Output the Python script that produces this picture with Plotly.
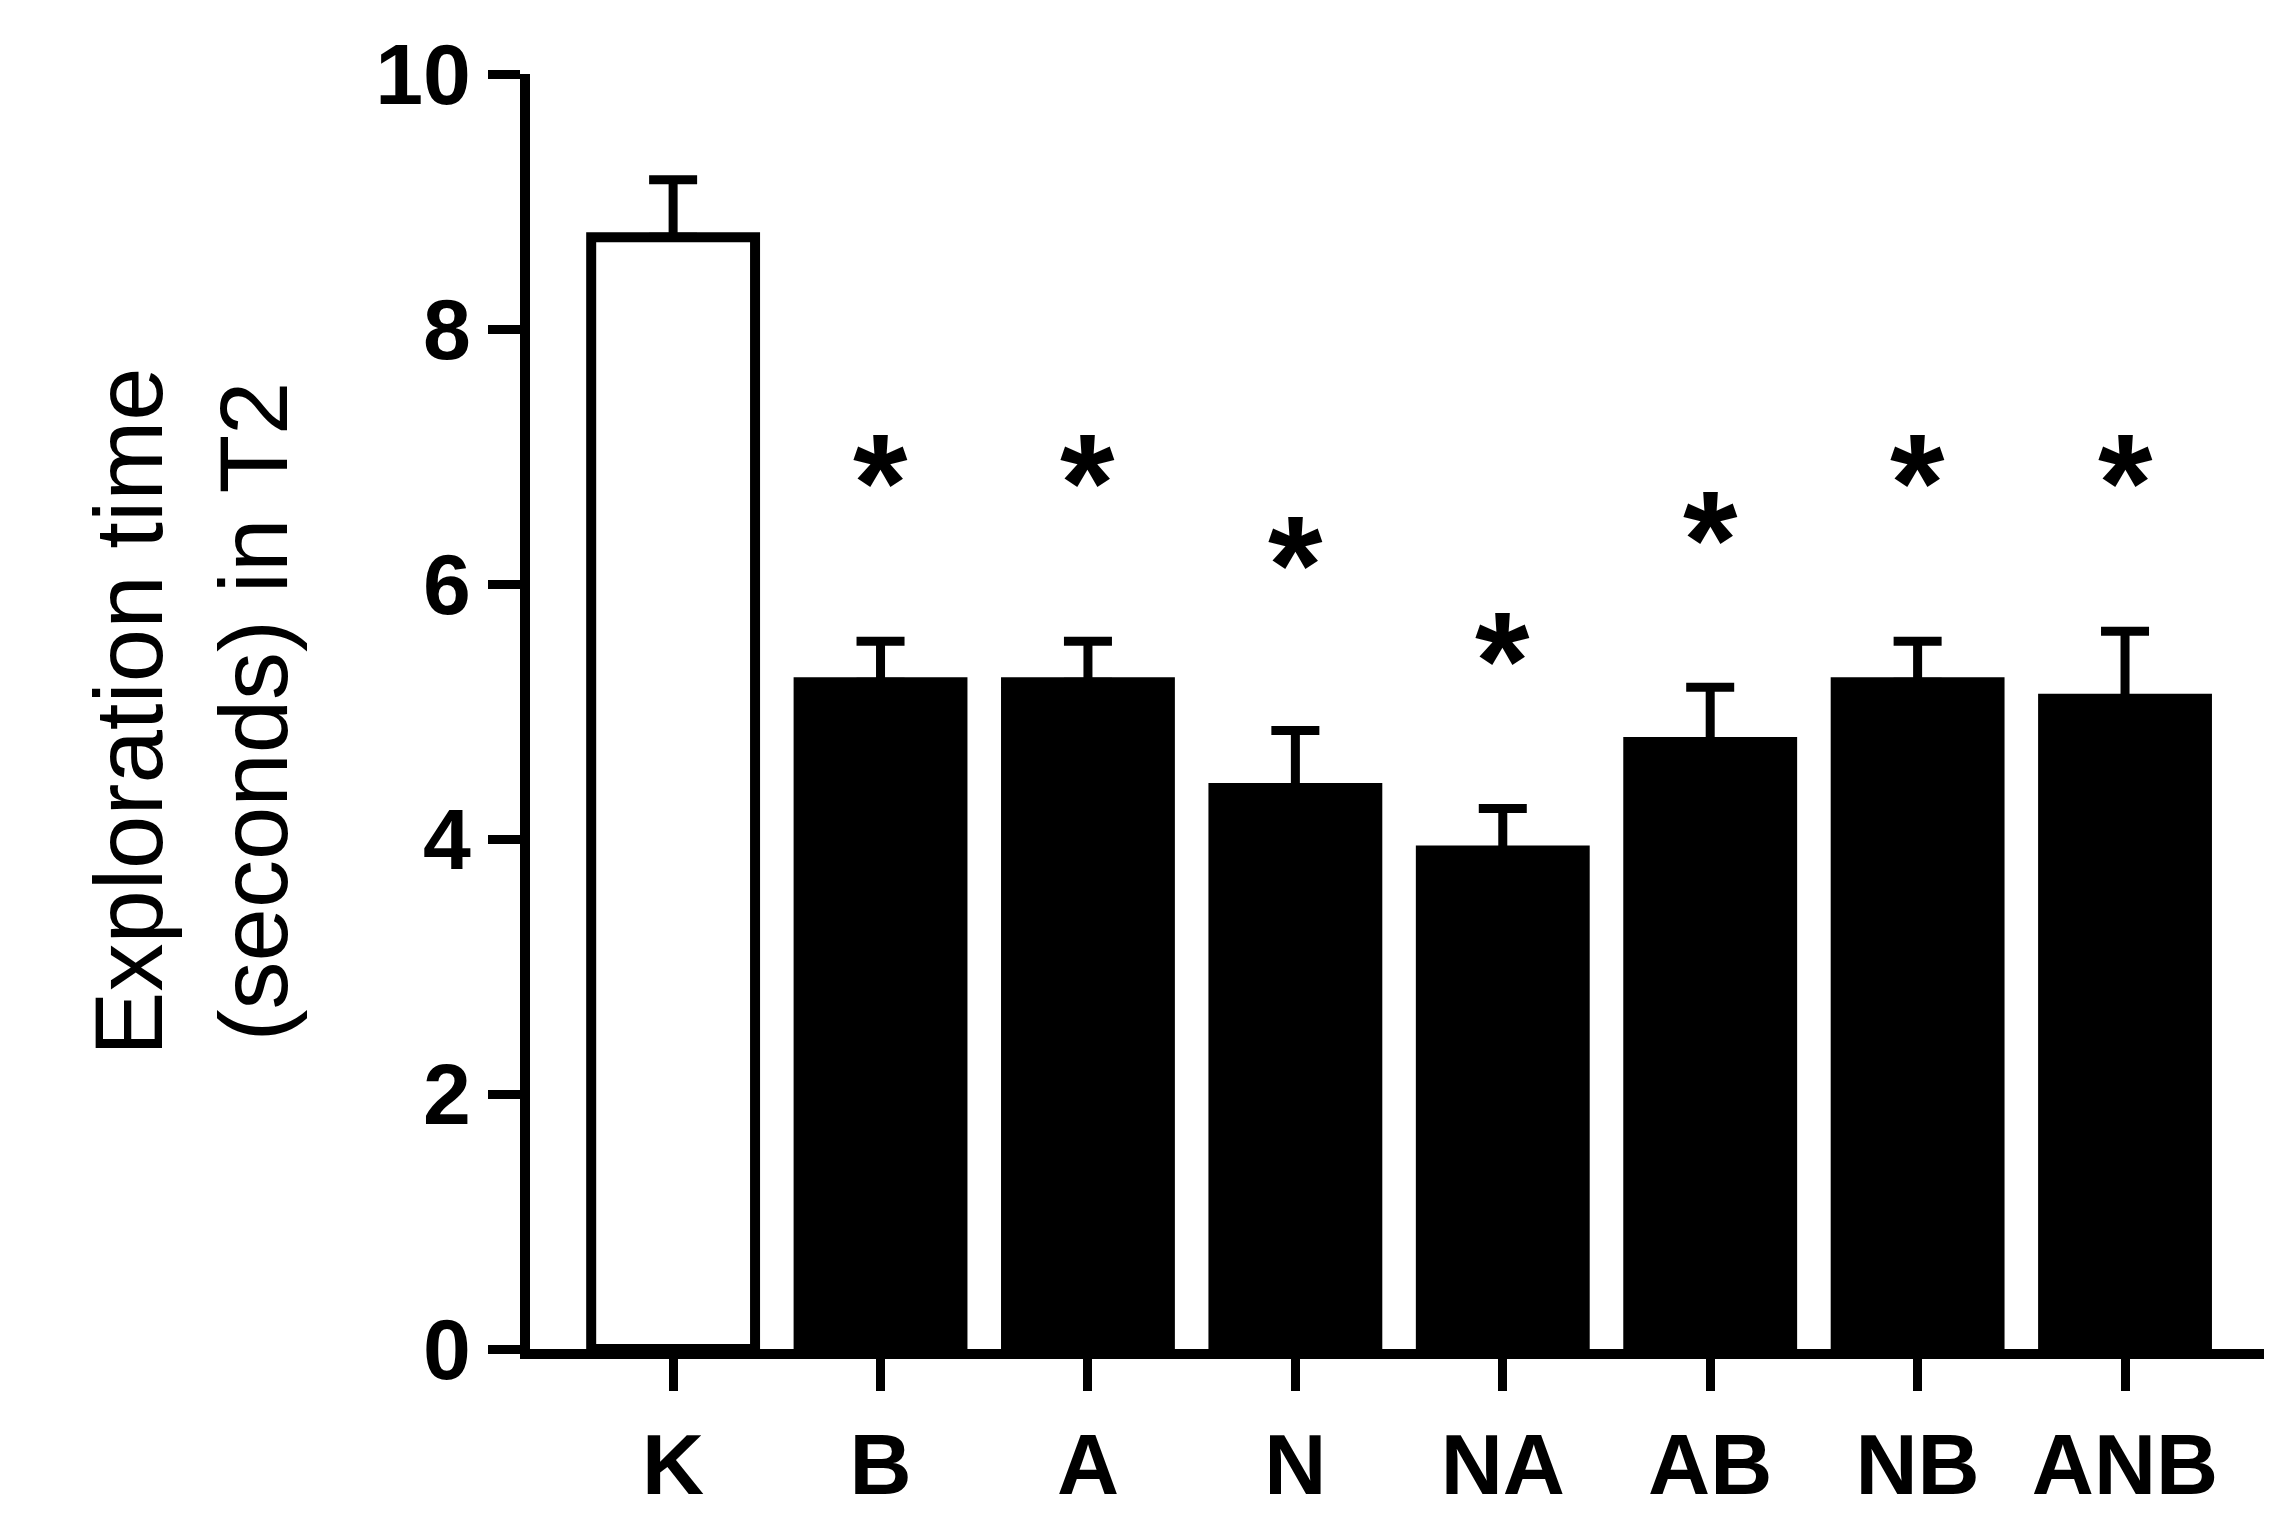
import plotly.graph_objects as go

groups = ["K", "B", "A", "N", "NA", "AB", "NB", "ANB"]
means = [8.72, 5.23, 5.23, 4.40, 3.91, 4.76, 5.23, 5.10]
sems = [0.45, 0.32, 0.32, 0.45, 0.33, 0.43, 0.32, 0.53]
star_y = [None, 6.8, 6.8, 6.15, 5.4, 6.35, 6.8, 6.8]

fills = ["white"] + ["black"] * (len(groups) - 1)

fig = go.Figure(go.Bar(
    x=groups, y=means, width=0.79,
    marker=dict(color=fills, line=dict(color="black", width=10)),
    error_y=dict(type="data", array=sems, arrayminus=[0] * len(sems),
                 color="black", thickness=9, width=24),
))

for g, sy in zip(groups, star_y):
    if sy is not None:
        fig.add_annotation(x=g, y=sy, text="<b>*</b>", showarrow=False,
                           font=dict(size=140, color="black", family="Liberation Sans"))

fig.update_layout(
    width=2284, height=1516, plot_bgcolor="white", paper_bgcolor="white",
    margin=dict(l=522, r=28, t=66, b=166), showlegend=False,
    font=dict(family="Liberation Sans", color="black"),
)
fig.update_xaxes(range=[-0.69, 7.67], showline=True, linecolor="black", linewidth=10,
                 ticks="outside", ticklen=32, tickwidth=9, tickcolor="black",
                 tickfont=dict(size=86, family="Liberation Sans", weight="bold"))
fig.update_yaxes(range=[0, 10], dtick=2, showline=True, linecolor="black", linewidth=10,
                 ticks="outside", ticklen=32, tickwidth=9, tickcolor="black", showgrid=False,
                 zeroline=False,
                 tickfont=dict(size=86, family="Liberation Sans", weight="bold"),
                 title=dict(text="Exploration time<br>(seconds) in T2", standoff=60,
                            font=dict(size=96, family="Liberation Sans")))

fig.write_html("out.html")
